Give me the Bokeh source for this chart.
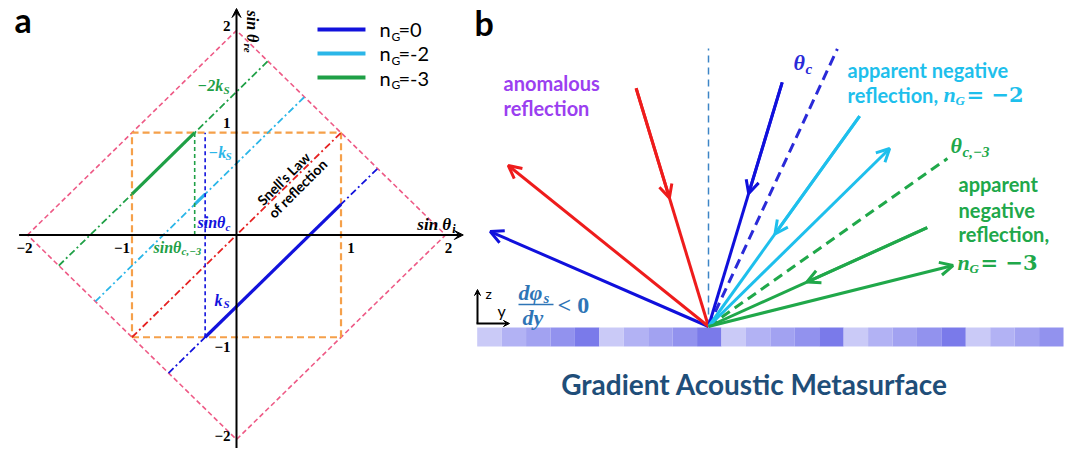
import math
from bokeh.plotting import figure
from bokeh.layouts import row
from bokeh.models import Range1d, Arrow, OpenHead, VeeHead
from bokeh.core.properties import value
from bokeh.embed import file_html
from bokeh.resources import INLINE

# ---------------- panel a data ----------------
diamond_x = [-2, 0, 2, 0, -2]
diamond_y = [0, 2, 0, -2, 0]
square_x = [-1, 1, 1, -1, -1]
square_y = [-1, -1, 1, 1, -1]
snell_x = [-1, 1]
snell_y = [-1, 1]
k_s = 0.7
sin_theta_c = -0.3
sin_theta_c3 = -0.4
orders = [0, -2, -3]
order_labels = ["=0", "=-2", "=-3"]
order_colors = ["#1212dc", "#2bb6e8", "#1fa046"]
solid_start = [sin_theta_c, sin_theta_c3, -1.0]
solid_end = [1.0, sin_theta_c, sin_theta_c3]
xtick_vals = [-2, -1, 1, 2]
xtick_labels = ["−2", "−1", "1", "2"]
ytick_vals = [-2, -1, 1, 2]
ytick_labels = ["−2", "−1", "1", "2"]

# ---------------- panel b data ----------------
normal_len = 278
refl_angles = [-66.5, -51.2, 45.5, 76.0]      # degrees from the normal
refl_lengths = [238, 257, 254, 252]
refl_colors = ["#1010dc", "#ee1c1c", "#1ebfec", "#20a84a"]
inc_angles = [-16.9, 16.8, 35.7, 65.7]
inc_lengths = [249, 255, 259, 240]
inc_colors = ["#ee1c1c", "#1010dc", "#1ebfec", "#20a84a"]
inc_head_frac = [0.54, 0.545, 0.44, 0.45]
crit_angles = [24.9, 54.9]
crit_lengths = [306, 292]
crit_colors = ["#2a2ad8", "#20a84a"]
cell_shades = ["#cacaf7", "#b2b2f4", "#a2a2f1", "#9292ee", "#7a7aea"]
n_cells = 24

SANS = "Lato"
SERIF = "Liberation Serif"
DSERIF = "DejaVu Serif"


def put(p, x, y, txt, color, size, font=SANS, style="bold", align="left",
        baseline="middle", dx=0, dy=0, angle=0.0):
    p.text(x=[x], y=[y], text=[txt], text_color=color, text_font=value(font),
           text_font_size=f"{size}px", text_font_style=style, text_align=align,
           text_baseline=baseline, x_offset=dx, y_offset=dy, angle=angle)


# ================= panel a =================
pa = figure(width=472, height=448, x_range=Range1d(-2.258, 2.258),
            y_range=Range1d(-2.088, 2.293), output_backend="svg",
            toolbar_location=None, x_axis_location=None, y_axis_location=None,
            min_border=0)
pa.grid.visible = False
pa.outline_line_color = None

pa.line(diamond_x, diamond_y, line_color="#ee5a86", line_width=1.6, line_dash="5 3")
pa.line(square_x, square_y, line_color="#f5a04a", line_width=2.2, line_dash="7 4")
pa.line(snell_x, snell_y, line_color="#e52222", line_width=1.8, line_dash="7 3 2 3")

for n, c, xs, xe in zip(orders, order_colors, solid_start, solid_end):
    off = -k_s * (1 + n)
    x0, x1 = (-2 - off) / 2, (2 - off) / 2
    pa.line([x0, x1], [x0 + off, x1 + off], line_color=c, line_width=1.8,
            line_dash="7 3 2 3")
    pa.line([xs, xe], [xs + off, xe + off], line_color=c, line_width=3.2)

pa.line([sin_theta_c, sin_theta_c], [-1, 1], line_color=order_colors[0],
        line_width=1.6, line_dash="4 3")
pa.line([sin_theta_c3, sin_theta_c3], [0, 1], line_color=order_colors[2],
        line_width=1.6, line_dash="4 3")

# axes
pa.add_layout(Arrow(end=VeeHead(size=9, fill_color="black", line_color="black"),
                    x_start=-2.08, y_start=0, x_end=2.17, y_end=0,
                    line_color="black", line_width=2))
pa.add_layout(Arrow(end=VeeHead(size=9, fill_color="black", line_color="black"),
                    x_start=0, y_start=-2.2, x_end=0, y_end=2.215,
                    line_color="black", line_width=2))

for v, t in zip(xtick_vals, xtick_labels):
    sgn = 1 if v > 0 else -1
    shift = 10 if abs(v) == 1 else 3
    put(pa, v, 0, t, "black", 15, SERIF, "bold", align="center",
        dx=sgn * shift, dy=13)
for v, t in zip(ytick_vals, ytick_labels):
    sgn = 1 if v > 0 else -1
    shift = -sgn * 10 if abs(v) == 1 else -4
    put(pa, 0, v, t, "black", 15, SERIF, "bold", align="right",
        dx=-6, dy=shift)

# axis titles
put(pa, 1.73, 0.103, "sin θ", "black", 17, SERIF, "bold italic")
put(pa, 1.73, 0.103, "i", "black", 12, SERIF, "bold italic", dx=35, dy=5)
put(pa, 0.15, 2.195, "sin θ", "black", 16, SERIF, "bold italic", angle=-math.pi / 2)
put(pa, 0.15, 2.195, "re", "black", 11, SERIF, "bold italic", angle=-math.pi / 2,
    dx=-4, dy=33)

# annotations
put(pa, -0.373, 1.46, "−2k", order_colors[2], 16, SERIF, "bold italic")
put(pa, -0.373, 1.46, "S", order_colors[2], 11, SERIF, "bold italic", dx=26, dy=4)
put(pa, -0.268, 0.807, "−k", order_colors[1], 16, SERIF, "bold italic")
put(pa, -0.268, 0.807, "S", order_colors[1], 11, SERIF, "bold italic", dx=17, dy=4)
put(pa, -0.373, 0.122, "sinθ", order_colors[0], 16, SERIF, "bold italic")
put(pa, -0.373, 0.122, "c", order_colors[0], 11, SERIF, "bold italic", dx=28, dy=4)
put(pa, -0.794, -0.122, "sinθ", order_colors[2], 16, SERIF, "bold italic")
put(pa, -0.794, -0.122, "c,−3", order_colors[2], 11, SERIF, "bold italic", dx=28, dy=4)
put(pa, -0.21, -0.64, "k", order_colors[0], 16, SERIF, "bold italic")
put(pa, -0.21, -0.64, "S", order_colors[0], 11, SERIF, "bold italic", dx=9, dy=4)

put(pa, 0.45, 0.552, "Snell’s Law", "black", 14, SANS, "bold", align="center",
    angle=math.pi / 4)
put(pa, 0.584, 0.455, "of reflection", "black", 14, SANS, "bold", align="center",
    angle=math.pi / 4)

# legend
leg_y = [2.01, 1.775, 1.54]
for yy, c, lab in zip(leg_y, order_colors, order_labels):
    pa.line([0.775, 1.234], [yy, yy], line_color=c, line_width=4)
    put(pa, 1.368, yy, "n", "black", 20, SANS, "normal")
    put(pa, 1.368, yy, "G", "black", 12, SANS, "normal", dx=12, dy=7)
    put(pa, 1.368, yy, lab, "black", 20, SANS, "normal", dx=19)

put(pa, -2.124, 2.108, "a", "black", 34, SANS, "bold")

# ================= panel b =================
pb = figure(width=596, height=448, x_range=Range1d(-236, 360),
            y_range=Range1d(-122, 326), output_backend="svg",
            toolbar_location=None, x_axis_location=None, y_axis_location=None,
            min_border=0)
pb.grid.visible = False
pb.outline_line_color = None

# metasurface
cw = 24.43
lefts = [-231.3 + i * cw for i in range(n_cells)]
pb.quad(left=lefts, right=[l + cw for l in lefts], bottom=-20, top=-1,
        fill_color=[cell_shades[i % len(cell_shades)] for i in range(n_cells)],
        line_color=None)

# normal
pb.line([0, 0], [0, normal_len], line_color="#3d85c6", line_width=1.5,
        line_dash="7 5")


def tip(a, L, f=1.0):
    r = math.radians(a)
    return L * f * math.sin(r), L * f * math.cos(r)


for a, L, c in zip(crit_angles, crit_lengths, crit_colors):
    x1, y1 = tip(a, L)
    pb.line([0, x1], [0, y1], line_color=c, line_width=3, line_dash="10 6")

for a, L, c in zip(refl_angles, refl_lengths, refl_colors):
    x1, y1 = tip(a, L)
    pb.add_layout(Arrow(end=OpenHead(size=13, line_color=c, line_width=3),
                        x_start=0, y_start=0, x_end=x1, y_end=y1,
                        line_color=c, line_width=3))

for a, L, c, f in zip(inc_angles, inc_lengths, inc_colors, inc_head_frac):
    x1, y1 = tip(a, L)
    xm, ym = tip(a, L, f)
    pb.line([x1, 0], [y1, 0], line_color=c, line_width=3)
    pb.add_layout(Arrow(end=OpenHead(size=13, line_color=c, line_width=3),
                        x_start=x1, y_start=y1, x_end=xm, y_end=ym,
                        line_color=c, line_width=3))

# labels
purple = "#9b3ff0"
put(pb, -205, 244, "anomalous", purple, 20)
put(pb, -205, 219, "reflection", purple, 20)

put(pb, 85, 264, "θ", crit_colors[0], 22, SERIF, "bold italic")
put(pb, 85, 264, "c", crit_colors[0], 15, SERIF, "bold italic", dx=12, dy=6)

cyan = refl_colors[2]
put(pb, 139, 257, "apparent negative", cyan, 20)
put(pb, 139, 232, "reflection,", cyan, 20)
put(pb, 235, 232, "n", cyan, 22, SERIF, "bold italic")
put(pb, 235, 232, "G", cyan, 13, SERIF, "bold italic", dx=12, dy=6)
put(pb, 235, 232, "= −2", cyan, 21, DSERIF, "bold", dx=23)

green = refl_colors[3]
put(pb, 242, 181, "θ", green, 22, SERIF, "bold italic")
put(pb, 242, 181, "c,−3", green, 15, SERIF, "bold italic", dx=12, dy=6)
put(pb, 250, 143, "apparent", green, 20)
put(pb, 250, 117, "negative", green, 20)
put(pb, 250, 93, "reflection,", green, 20)
put(pb, 249, 64, "n", green, 22, SERIF, "bold italic")
put(pb, 249, 64, "G", green, 13, SERIF, "bold italic", dx=12, dy=6)
put(pb, 249, 64, "= −3", green, 21, DSERIF, "bold", dx=23)

# coordinate indicator
pb.add_layout(Arrow(end=VeeHead(size=6, fill_color="black", line_color="black"),
                    x_start=-231, y_start=3, x_end=-231, y_end=37,
                    line_color="black", line_width=2))
pb.add_layout(Arrow(end=VeeHead(size=6, fill_color="black", line_color="black"),
                    x_start=-232, y_start=3, x_end=-199, y_end=3,
                    line_color="black", line_width=2))
put(pb, -223, 33, "z", "black", 14, SANS, "normal")
put(pb, -211, 16, "y", "black", 16, SANS, "normal")

blue2 = "#2e75b6"
put(pb, -190, 34, "dφ", blue2, 22, SERIF, "bold italic")
put(pb, -190, 34, "s", blue2, 15, SERIF, "bold italic", dx=25, dy=5)
pb.line([-190, -155], [22, 22], line_color=blue2, line_width=1.5)
put(pb, -186, 9, "dy", blue2, 22, SERIF, "bold italic")
put(pb, -151, 22, "< 0", blue2, 24, SERIF, "bold")

put(pb, 46, -57, "Gradient Acoustic Metasurface", "#1f4e79", 28, SANS, "bold",
    align="center")
put(pb, -234, 304, "b", "black", 34, SANS, "bold")

layout = row(pa, pb)
open("out.html", "w").write(file_html(layout, INLINE))
